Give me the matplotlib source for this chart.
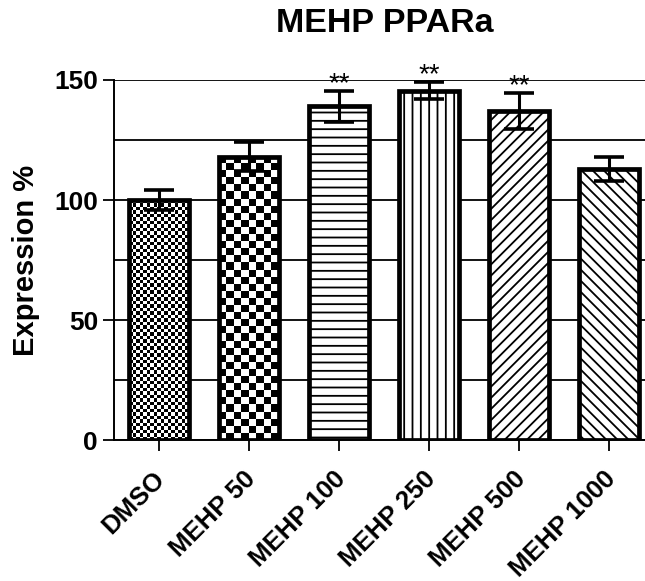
import numpy as np
import matplotlib
matplotlib.use("Agg")
import matplotlib.pyplot as plt
from matplotlib.transforms import ScaledTranslation

plt.rcParams["font.family"] = ["Liberation Sans", "DejaVu Sans"]
plt.rcParams["font.weight"] = "bold"
plt.rcParams["hatch.linewidth"] = 1.3

# ── data ────────────────────────────────────────────────────────────────────
categories = ["DMSO", "MEHP 50", "MEHP 100", "MEHP 250", "MEHP 500", "MEHP 1000"]
means = [100, 118, 139, 145.5, 137, 113]
sems = [4, 6, 6.5, 3.5, 7.5, 5]
signif = ["", "", "**", "**", "**", ""]
hatches = [None, None, "--", "||", "///", "\\\\\\"]
checker_px = [3.5, 7, None, None, None, None]   # checkerboard cell size (px)

# ── figure ──────────────────────────────────────────────────────────────────
fig = plt.figure(figsize=(6.45, 5.81), dpi=100)
ax = fig.add_axes([114 / 645, 141 / 581, 531 / 645, 360 / 581])

x = np.arange(len(categories))
bars = ax.bar(x, means, width=0.66, color="white", edgecolor="black",
              linewidth=3.4, zorder=2)
for b, h in zip(bars, hatches):
    if h:
        b.set_hatch(h)

ax.set_xlim(-0.5, 5.4)
ax.set_ylim(0, 150)

# checkerboard fills (no native hatch for this)
fig.canvas.draw()
for b, cell in zip(bars, checker_px):
    if cell is None:
        continue
    x0, w, h = b.get_x(), b.get_width(), b.get_height()
    p0 = ax.transData.transform((x0, 0))
    p1 = ax.transData.transform((x0 + w, h))
    ncol = max(1, int(round((p1[0] - p0[0]) / cell)))
    nrow = max(1, int(round((p1[1] - p0[1]) / cell)))
    pattern = np.add.outer(np.arange(nrow), np.arange(ncol)) % 2
    b.set_facecolor("none")
    im = ax.imshow(pattern, cmap="gray", extent=(x0, x0 + w, 0, h),
                   interpolation="nearest", aspect="auto", zorder=1.5)
    im.set_clip_path(b)

ax.set_xlim(-0.5, 5.4)
ax.set_ylim(0, 150)

ax.errorbar(x, means, yerr=sems, fmt="none", ecolor="black", elinewidth=2.2,
            capsize=11, capthick=2.6, zorder=3)

for xi, m, s, lab in zip(x, means, sems, signif):
    if lab:
        ax.text(xi, m + s, lab, ha="center", va="baseline", fontsize=20,
                fontweight="normal", clip_on=False)

# axes styling
ax.set_yticks([0, 50, 100, 150])
ax.set_yticks([25, 75, 125], minor=True)
ax.grid(axis="y", which="both", color="black", lw=1.3, zorder=0.5)
ax.set_axisbelow(True)
ax.spines[["top", "right"]].set_visible(False)
ax.spines[["left", "bottom"]].set_linewidth(1.4)
ax.tick_params(axis="y", which="major", length=8, width=1.3, labelsize=19)
ax.tick_params(axis="y", which="minor", length=0)
ax.tick_params(axis="x", length=8, width=1.3, labelsize=18.5, pad=11)
ax.set_xticks(x)
ax.set_xticklabels(categories, rotation=45, ha="right", va="top",
                   rotation_mode="anchor")
shift = ScaledTranslation(-6 / 100, 0, fig.dpi_scale_trans)
for lbl in ax.get_xticklabels():
    lbl.set_transform(lbl.get_transform() + shift)
ax.set_ylabel("Expression %", fontsize=21, fontweight="bold", labelpad=10)

fig.text(385 / 645, 1 - 24 / 581, "MEHP PPARa", ha="center", va="center",
         fontsize=24.5, fontweight="bold")

fig.savefig("out.png", dpi=100, facecolor="white")
